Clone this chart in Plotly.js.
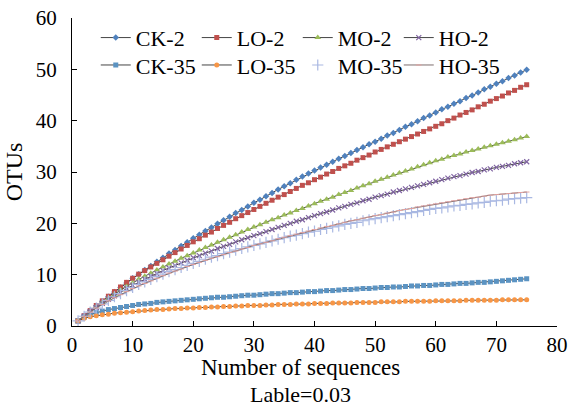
<!DOCTYPE html>
<html>
<head>
<meta charset="utf-8">
<script src="https://cdn.plot.ly/plotly-3.0.1.min.js"></script>
<style>html,body{margin:0;padding:0;background:#fff;}#chart{width:568px;height:408px;}</style>
</head>
<body>
<div id="chart"></div>
<script>
const seqs = [1,2,3,4,5,6,7,8,9,10,11,12,13,14,15,16,17,18,19,20,21,22,23,24,25,26,27,28,29,30,31,32,33,34,35,36,37,38,39,40,41,42,43,44,45,46,47,48,49,50,51,52,53,54,55,56,57,58,59,60,61,62,63,64,65,66,67,68,69,70,71,72,73,74,75];

const ck2 = [1.0,2.0,3.0,3.9,4.8,5.7,6.6,7.5,8.4,9.3,10.1,10.9,11.7,12.5,13.3,14.1,14.8,15.6,16.3,17.1,17.8,18.5,19.2,19.9,20.6,21.3,22.0,22.6,23.3,24.0,24.6,25.3,25.9,26.6,27.2,27.8,28.5,29.1,29.7,30.3,30.9,31.4,32.0,32.6,33.1,33.7,34.3,34.8,35.4,35.9,36.5,37.1,37.6,38.2,38.8,39.3,39.9,40.5,41.0,41.6,42.2,42.7,43.3,43.8,44.4,44.9,45.5,46.1,46.6,47.2,47.7,48.3,48.8,49.4,49.9];
const lo2 = [1.0,2.0,3.0,4.0,4.9,5.8,6.7,7.6,8.5,9.3,10.1,10.8,11.5,12.2,12.9,13.6,14.3,15.0,15.7,16.4,17.0,17.7,18.3,19.0,19.6,20.2,20.9,21.5,22.1,22.7,23.3,23.9,24.5,25.1,25.6,26.2,26.8,27.4,27.9,28.5,29.0,29.6,30.1,30.7,31.2,31.7,32.3,32.8,33.3,33.9,34.4,34.9,35.4,35.9,36.4,36.9,37.4,37.9,38.4,38.9,39.4,40.0,40.5,41.1,41.6,42.1,42.7,43.2,43.8,44.3,44.8,45.4,45.9,46.5,47.0];
const mo2 = [1.0,1.9,2.8,3.7,4.6,5.4,6.2,7.0,7.7,8.4,9.1,9.7,10.3,10.9,11.5,12.1,12.6,13.2,13.7,14.2,14.8,15.3,15.8,16.3,16.8,17.3,17.8,18.3,18.8,19.3,19.7,20.2,20.7,21.1,21.6,22.0,22.5,22.9,23.4,23.8,24.3,24.7,25.1,25.6,26.0,26.4,26.9,27.3,27.7,28.2,28.6,29.0,29.4,29.8,30.2,30.6,31.0,31.4,31.8,32.2,32.5,32.9,33.2,33.5,33.9,34.2,34.5,34.8,35.1,35.4,35.7,36.0,36.3,36.6,36.9];
const ho2 = [1.0,1.9,2.8,3.6,4.4,5.2,5.9,6.6,7.3,7.9,8.5,9.1,9.7,10.2,10.8,11.3,11.8,12.3,12.8,13.3,13.7,14.2,14.6,15.1,15.5,15.9,16.4,16.8,17.2,17.6,18.0,18.4,18.8,19.2,19.6,20.0,20.4,20.7,21.1,21.5,21.9,22.2,22.6,23.0,23.3,23.7,24.0,24.4,24.7,25.1,25.4,25.7,26.1,26.4,26.7,27.0,27.3,27.6,27.9,28.2,28.5,28.8,29.1,29.3,29.6,29.9,30.1,30.4,30.6,30.9,31.1,31.3,31.6,31.8,32.0];
const ck35 = [1.0,1.7,2.2,2.6,2.9,3.2,3.4,3.6,3.8,4.0,4.2,4.3,4.4,4.6,4.7,4.8,4.9,5.0,5.1,5.2,5.3,5.4,5.5,5.6,5.6,5.7,5.8,5.9,6.0,6.0,6.1,6.2,6.3,6.3,6.4,6.5,6.5,6.6,6.7,6.7,6.8,6.9,6.9,7.0,7.1,7.1,7.2,7.3,7.3,7.4,7.5,7.5,7.6,7.6,7.7,7.8,7.8,7.9,7.9,8.0,8.1,8.1,8.2,8.3,8.3,8.4,8.5,8.5,8.6,8.7,8.8,8.9,9.0,9.1,9.2];
const lo35 = [1.0,1.5,1.8,2.0,2.2,2.3,2.5,2.6,2.7,2.8,2.9,3.0,3.1,3.2,3.2,3.3,3.4,3.4,3.5,3.5,3.6,3.6,3.7,3.7,3.8,3.8,3.9,3.9,4.0,4.0,4.0,4.1,4.1,4.2,4.2,4.2,4.3,4.3,4.3,4.4,4.4,4.4,4.5,4.5,4.5,4.5,4.6,4.6,4.6,4.6,4.7,4.7,4.7,4.7,4.8,4.8,4.8,4.8,4.8,4.9,4.9,4.9,4.9,4.9,5.0,5.0,5.0,5.0,5.0,5.0,5.1,5.1,5.1,5.1,5.1];
const mo35 = [1.0,1.9,2.7,3.5,4.3,5.0,5.7,6.3,6.9,7.5,8.1,8.6,9.1,9.6,10.1,10.6,11.0,11.4,11.8,12.2,12.6,13.0,13.4,13.7,14.1,14.4,14.8,15.1,15.4,15.7,16.0,16.3,16.6,16.9,17.2,17.5,17.7,18.0,18.3,18.5,18.8,19.0,19.3,19.5,19.8,20.0,20.2,20.5,20.7,20.9,21.1,21.3,21.5,21.7,21.9,22.1,22.3,22.5,22.7,22.9,23.0,23.2,23.4,23.5,23.7,23.8,24.0,24.1,24.3,24.4,24.5,24.7,24.8,24.9,25.0];
const ho35 = [1.0,1.9,2.7,3.5,4.2,4.9,5.5,6.1,6.7,7.3,7.8,8.3,8.8,9.3,9.8,10.3,10.7,11.1,11.6,12.0,12.4,12.8,13.2,13.5,13.9,14.3,14.6,15.0,15.3,15.7,16.0,16.3,16.6,17.0,17.3,17.6,17.9,18.2,18.5,18.8,19.1,19.4,19.6,19.9,20.2,20.5,20.7,21.0,21.2,21.5,21.7,22.0,22.2,22.5,22.7,22.9,23.2,23.4,23.6,23.8,24.0,24.2,24.4,24.6,24.8,25.0,25.1,25.3,25.5,25.6,25.7,25.8,25.9,26.0,26.1];

const names = ["CK-2","LO-2","MO-2","HO-2","CK-35","LO-35","MO-35","HO-35"];

const LINE = "#454545";
function tr(name, y, mode, lineColor, sym, size, mcolor, mline, leg) {
  const t = {x: seqs, y: y, name: name, type: "scatter", mode: mode, legend: leg,
    marker: {symbol: sym, size: size, color: mcolor, line: mline || {width: 0}}};
  if (mode.indexOf("lines") >= 0) t.line = {color: lineColor, width: 1};
  return t;
}
const data = [
  tr(names[0], ck2, "lines+markers", LINE, "diamond", 5, "#4F81BD", null, "legend"),
  tr(names[1], lo2, "lines+markers", LINE, "square", 5, "#C0504D", null, "legend"),
  tr(names[2], mo2, "lines+markers", LINE, "triangle-up", 6, "#9BBB59", null, "legend"),
  tr(names[3], ho2, "lines+markers", LINE, "x-thin", 5, "#8064A2", {width: 1.2, color: "#8064A2"}, "legend"),
  tr(names[4], ck35, "lines+markers", LINE, "square", 5, "#5B93C2", null, "legend2"),
  tr(names[5], lo35, "lines+markers", LINE, "circle", 5, "#F79646", null, "legend2"),
  tr(names[6], mo35, "markers", LINE, "cross-thin", 8, "#A9B8E2", {width: 1.2, color: "#A9B8E2"}, "legend2"),
  tr(names[7], ho35, "lines+markers", "#7d6e6e", "line-ew", 4, "#E3A2A0", {width: 1, color: "#E3A2A0"}, "legend2")
];

const FONT = "Liberation Serif";
const legBase = {orientation: "h", xanchor: "left", yanchor: "top",
    font: {family: FONT, size: 22, color: "#000"}, itemwidth: 30,
    entrywidth: 56, entrywidthmode: "pixels", bgcolor: "rgba(0,0,0,0)"};
const layout = {
  width: 568, height: 408,
  margin: {l: 72, r: 11, t: 18, b: 82},
  paper_bgcolor: "#fff", plot_bgcolor: "#fff",
  font: {family: FONT, size: 20, color: "#000"},
  showlegend: true,
  legend: Object.assign({}, legBase, {x: 0.049, y: 1.004}),
  legend2: Object.assign({}, legBase, {x: 0.049, y: 0.915}),
  xaxis: {range: [0, 80], dtick: 10, tick0: 0, ticks: "inside", ticklen: 5, tickcolor: "#000",
    showline: true, linecolor: "#000", linewidth: 1, showgrid: false, zeroline: false,
    tickfont: {family: FONT, size: 21, color: "#000"}},
  yaxis: {range: [0, 60], dtick: 10, tick0: 0, ticks: "inside", ticklen: 5, tickcolor: "#000",
    showline: true, linecolor: "#000", linewidth: 1, showgrid: false, zeroline: false,
    ticklabelstandoff: 10,
    tickfont: {family: FONT, size: 21, color: "#000"},
    title: {text: "OTUs", font: {family: FONT, size: 24, color: "#000"}, standoff: 6}},
  annotations: [
    {text: "Number of sequences", xref: "paper", yref: "paper", x: 0.472, y: -0.136,
     xanchor: "center", yanchor: "middle", showarrow: false, font: {family: FONT, size: 23, color: "#000"}},
    {text: "Lable=0.03", xref: "paper", yref: "paper", x: 0.472, y: -0.224,
     xanchor: "center", yanchor: "middle", showarrow: false, font: {family: FONT, size: 22, color: "#000"}}
  ]
};
Plotly.newPlot("chart", data, layout, {displayModeBar: false, staticPlot: true});
</script>
</body>
</html>
